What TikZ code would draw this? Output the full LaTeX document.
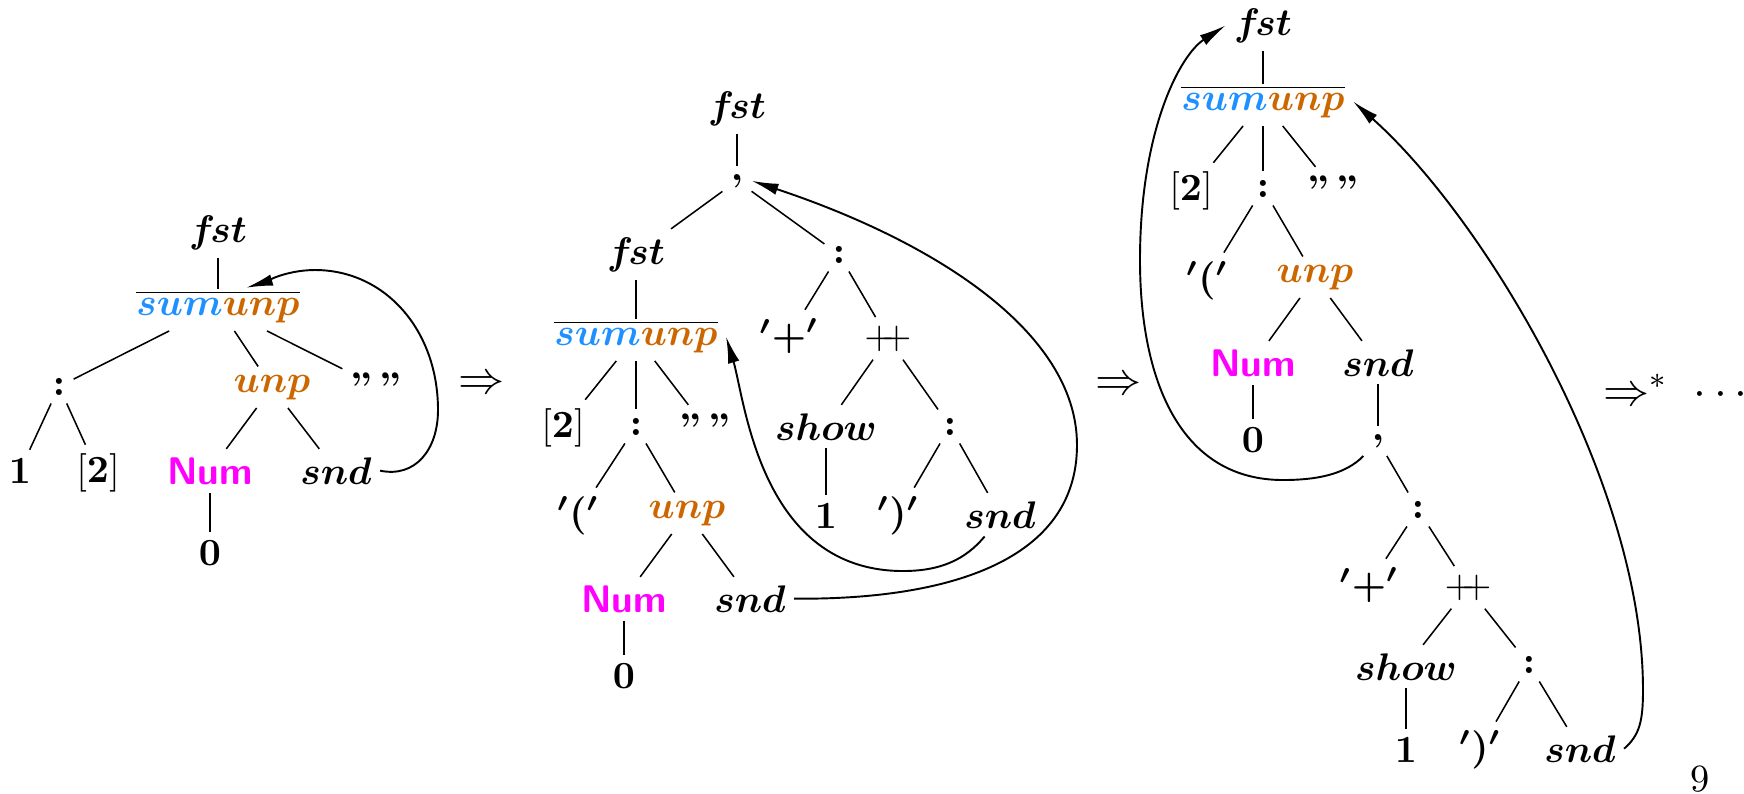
\documentclass[tikz,border=0pt]{standalone}
\usepackage{amsmath}
\usetikzlibrary{arrows.meta,calc}
\definecolor{sumblue}{RGB}{30,144,255}
\definecolor{unporange}{RGB}{204,102,0}
\definecolor{nummag}{RGB}{255,0,255}
\newcommand{\SU}{$\overline{\textcolor{sumblue}{sum}\textcolor{unporange}{unp}}$}
\newcommand{\UN}{$\textcolor{unporange}{unp}$}
\newcommand{\NUM}{\textcolor{nummag}{\sffamily\bfseries Num}}
\newcommand{\QQ}{\textbf{''}\,\textbf{''}}
\newcommand{\PP}{$+\!\!+$}
\newcommand{\LB}{$[\mathbf{2}]$}
\newcommand{\FST}{$f\mkern-2mu st$}
\begin{document}
\begin{tikzpicture}[x=0.26pt,y=-0.26pt,
  t/.style={anchor=base,inner sep=2pt,font=\boldmath},
  tn/.style={anchor=base,inner sep=2pt},
  arr/.style={-{Latex[length=7pt,width=3pt]},line width=0.5pt},
  bar/.style={shorten >=-2pt}]
\useasboundingbox (0,0) rectangle (1744,793);
% ---------- tree 1
\node[t] (f1) at (218,242) {\FST};
\node[t] (s1) at (218,315) {\SU};
\node[t] (c1) at (59,395) {$:$};
\node[t] (u1) at (272,392) {\UN};
\node[t] (q1) at (376,399) {\QQ};
\node[t] (n11) at (20,483) {$1$};
\node[tn] (b1) at (98,482) {\LB};
\node[t] (m1) at (210,484) {\NUM};
\node[t] (d1) at (336,484) {$snd$};
\node[t] (z1) at (210,565) {$0$};
\draw[bar] (f1) -- (s1.north);
\draw (s1) -- (c1); \draw (s1) -- (u1); \draw (s1) -- (q1);
\draw (c1) -- (n11); \draw (c1) -- (b1);
\draw (u1) -- (m1); \draw (u1) -- (d1);
\draw (m1) -- (z1);
\draw[arr] (d1.east) .. controls (415,478) and (438,450) .. (438,410)
  .. controls (438,330) and (385,270) .. (315,270)
  .. controls (285,270) and (262,283) .. ($(s1.north)+(28,6)$);
\node[font=\large] (imp1) at (482,385) {$\Rightarrow$};
% ---------- tree 2
\node[t] (f2) at (737,118) {\FST};
\node[t] (k2) at (737,180) {$,$};
\node[t] (g2) at (636,264) {\FST};
\node[t] (s2) at (636,345) {\SU};
\node[t] (c2) at (839,263) {$:$};
\node[t] (p2) at (789,348) {$'{+}'$};
\node[tn] (pp2) at (888,348) {\PP};
\node[tn] (b2) at (563,437) {\LB};
\node[t] (c2b) at (636,435) {$:$};
\node[t] (q2) at (705,440) {\QQ};
\node[t] (h2) at (826,440) {$show$};
\node[t] (c2c) at (950,435) {$:$};
\node[t] (l2) at (578,525) {$'('$};
\node[t] (u2) at (687,518) {\UN};
\node[t] (o2) at (826,528) {$1$};
\node[t] (r2) at (898,525) {$')'$};
\node[t] (d2) at (1000,528) {$snd$};
\node[t] (m2) at (624,612) {\NUM};
\node[t] (e2) at (750,612) {$snd$};
\node[t] (z2) at (624,688) {$0$};
\draw (f2) -- (k2);
\draw (k2) -- (g2); \draw (k2) -- (c2);
\draw[bar] (g2) -- (s2.north);
\draw (s2) -- (b2); \draw (s2) -- (c2b); \draw (s2) -- (q2);
\draw (c2) -- (p2); \draw (c2) -- (pp2);
\draw (pp2) -- (h2); \draw (pp2) -- (c2c);
\draw (c2b) -- (l2); \draw (c2b) -- (u2);
\draw (h2) -- (o2);
\draw (c2c) -- (r2); \draw (c2c) -- (d2);
\draw (u2) -- (m2); \draw (u2) -- (e2);
\draw (m2) -- (z2);
\draw[arr] (e2.east) .. controls (950,600) and (1077,560) .. (1077,445)
  .. controls (1077,330) and (930,240) .. (k2.east);
\draw[arr] ([xshift=-4pt]d2.south) .. controls (965,560) and (940,571) .. (903,571)
  .. controls (760,571) and (745,400) .. (s2.east);
\node[font=\large] (imp2) at (1119,386) {$\Rightarrow$};
% ---------- tree 3
\node[t] (f3) at (1263,35) {\FST};
\node[t] (s3) at (1263,110) {\SU};
\node[tn] (b3) at (1191,200) {\LB};
\node[t] (c3) at (1263,197) {$:$};
\node[t] (q3) at (1333,202) {\QQ};
\node[t] (l3) at (1207,290) {$'('$};
\node[t] (u3) at (1315,282) {\UN};
\node[t] (m3) at (1253,376) {\NUM};
\node[t] (d3) at (1378,376) {$snd$};
\node[t] (z3) at (1253,452) {$0$};
\node[t] (k3) at (1378,440) {$,$};
\node[t] (c3b) at (1418,518) {$:$};
\node[t] (p3) at (1369,597) {$'{+}'$};
\node[tn] (pp3) at (1468,597) {\PP};
\node[t] (h3) at (1406,680) {$show$};
\node[t] (c3c) at (1529,673) {$:$};
\node[t] (o3) at (1406,762) {$1$};
\node[t] (r3) at (1480,759) {$')'$};
\node[t] (d3b) at (1580,762) {$snd$};
\draw[bar] (f3) -- (s3.north);
\draw (s3) -- (b3); \draw (s3) -- (c3); \draw (s3) -- (q3);
\draw (c3) -- (l3); \draw (c3) -- (u3);
\draw (u3) -- (m3); \draw (u3) -- (d3);
\draw (m3) -- (z3);
\draw (d3) -- (k3);
\draw (k3) -- (c3b);
\draw (c3b) -- (p3); \draw (c3b) -- (pp3);
\draw (pp3) -- (h3); \draw (pp3) -- (c3c);
\draw (h3) -- (o3);
\draw (c3c) -- (r3); \draw (c3c) -- (d3b);
\draw[arr] (k3.south west) .. controls (1345,475) and (1315,480) .. (1283,480)
  .. controls (1180,480) and (1140,380) .. (1140,260)
  .. controls (1140,130) and (1180,55) .. (f3.west);
\draw[arr] (d3b.east) .. controls (1640,735) and (1643,720) .. (1643,690)
  .. controls (1643,480) and (1483,217) .. (s3.east);
\node[font=\large,anchor=west,inner sep=0pt] (imp3) at (1603,390) {$\Rightarrow^{*}\;\cdots$};
\node[anchor=base,inner sep=0pt] (pg) at (1700,791) {9};
\end{tikzpicture}
\end{document}
